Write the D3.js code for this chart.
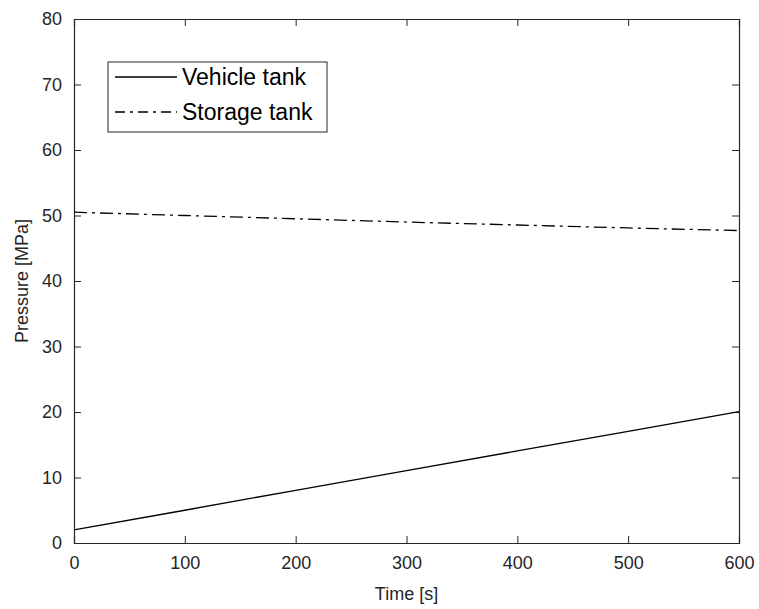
<!DOCTYPE html>
<html>
<head>
<meta charset="utf-8">
<script src="https://cdn.jsdelivr.net/npm/d3@7"></script>
<style>
  body { margin: 0; background: #fff; }
  text { font-family: "Liberation Sans", Arial, Helvetica, sans-serif; }
</style>
</head>
<body>
<svg id="chart" width="759" height="609"></svg>
<script>
// data
const timeS = [0, 100, 200, 300, 400, 500, 600];
const vehicleTank = [2, 5, 8.05, 11.05, 14.05, 17.05, 20.05];
const storageTank = [50.5, 50.0, 49.5, 49.0, 48.55, 48.1, 47.7];
const seriesNames = ["Vehicle tank", "Storage tank"];
const xTicks = [0, 100, 200, 300, 400, 500, 600];
const yTicks = [0, 10, 20, 30, 40, 50, 60, 70, 80];

const svg = d3.select("#chart");
const ink = "#262626";
const margin = { left: 74, right: 20, top: 19, bottom: 66 };
const width = 759, height = 609;

let x = d3.scaleLinear().domain([0, 600]).range([margin.left, width - margin.right]);
let y = d3.scaleLinear().domain([0, 80]).range([height - margin.bottom, margin.top]);

// axes, ticks inward and mirrored like matlab
const tickLen = 7;
const axisFont = 18;

let gx = svg.append("g").attr("transform", `translate(0,${y(0)})`)
  .call(d3.axisBottom(x).tickValues(xTicks).tickSize(-tickLen).tickPadding(13));
let gxTop = svg.append("g").attr("transform", `translate(0,${y(80)})`)
  .call(d3.axisTop(x).tickValues(xTicks).tickSize(-tickLen).tickFormat(""));
let gy = svg.append("g").attr("transform", `translate(${x(0)},0)`)
  .call(d3.axisLeft(y).tickValues(yTicks).tickSize(-tickLen).tickPadding(12));
let gyRight = svg.append("g").attr("transform", `translate(${x(600)},0)`)
  .call(d3.axisRight(y).tickValues(yTicks).tickSize(-tickLen).tickFormat(""));

[gx, gxTop, gy, gyRight].forEach(g => {
  g.select(".domain").attr("stroke", ink).attr("stroke-width", 1.2);
  g.selectAll(".tick line").attr("stroke", ink).attr("stroke-width", 1);
  g.selectAll(".tick text").attr("fill", ink).style("font-size", axisFont + "px");
});

// axis labels
svg.append("text")
  .attr("x", (x(0) + x(600)) / 2).attr("y", 600)
  .attr("text-anchor", "middle").attr("fill", ink)
  .style("font-size", "18px").text("Time [s]");
svg.append("text")
  .attr("transform", `translate(28,${(y(0) + y(80)) / 2}) rotate(-90)`)
  .attr("text-anchor", "middle").attr("fill", ink)
  .style("font-size", "18px").text("Pressure [MPa]");

// lines
const dashDot = "13,5,3,5";
let line = d3.line().x((d, i) => x(timeS[i])).y(d => y(d));

svg.append("path").datum(vehicleTank)
  .attr("d", line).attr("fill", "none")
  .attr("stroke", "#000").attr("stroke-width", 1.3);
svg.append("path").datum(storageTank)
  .attr("d", line).attr("fill", "none")
  .attr("stroke", "#000").attr("stroke-width", 1.3)
  .attr("stroke-dasharray", dashDot);

// legend
let legend = svg.append("g").attr("transform", "translate(108,62)");
legend.append("rect")
  .attr("width", 219).attr("height", 70)
  .attr("fill", "#fff").attr("stroke", ink).attr("stroke-width", 1);

seriesNames.forEach((name, i) => {
  let cy = 15 + i * 35;
  legend.append("line")
    .attr("x1", 7).attr("x2", 69).attr("y1", cy).attr("y2", cy)
    .attr("stroke", "#000").attr("stroke-width", 1.3)
    .attr("stroke-dasharray", i === 1 ? "10,5,3,5" : null);
  legend.append("text")
    .attr("x", 74).attr("y", cy + 8)
    .attr("fill", "#000").style("font-size", "23px")
    .text(name);
});
</script>
</body>
</html>
